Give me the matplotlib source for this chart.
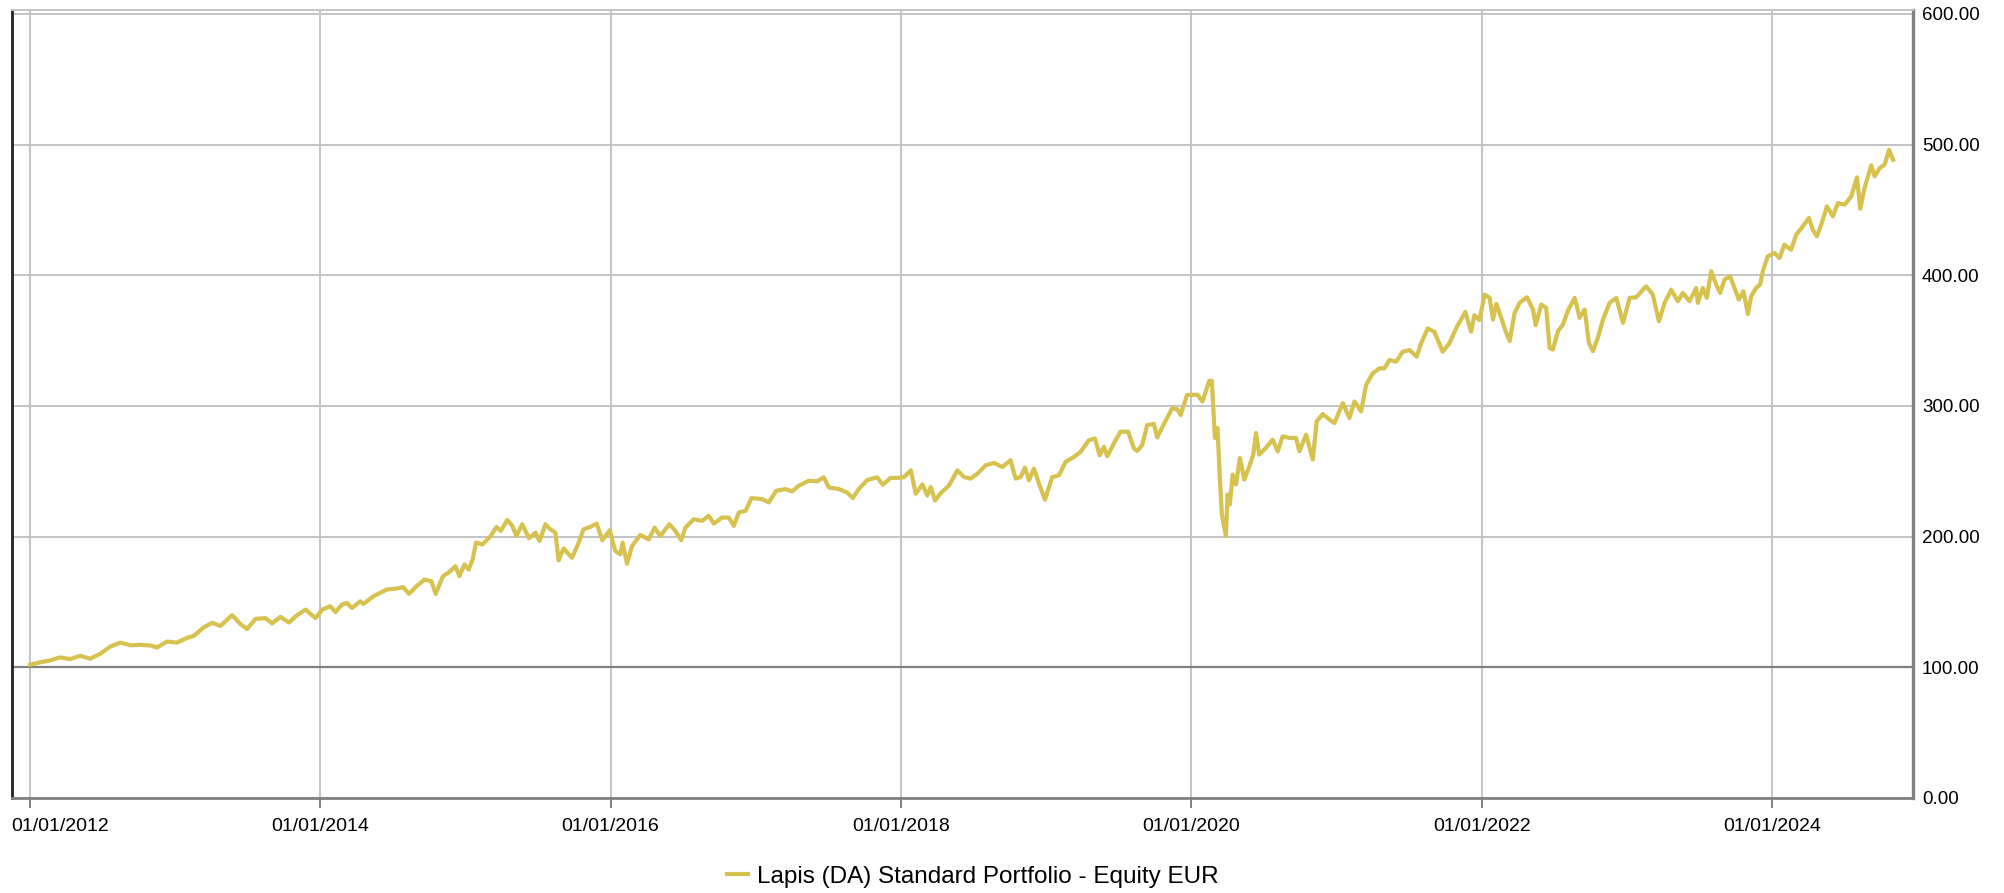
import numpy as np
import pandas as pd
import matplotlib
matplotlib.use("Agg")
import matplotlib.pyplot as plt
import matplotlib.transforms as mtransforms

plt.rcParams['font.family'] = ['Liberation Sans', 'DejaVu Sans']

series_name = "Lapis (DA) Standard Portfolio - Equity EUR"

# values: (decimal year, index level)
t_2012_13 = [2012.000, 2012.069, 2012.138, 2012.207, 2012.276, 2012.345, 2012.414, 2012.483,
             2012.552, 2012.621, 2012.690, 2012.759, 2012.828, 2012.874, 2012.943, 2013.011,
             2013.080, 2013.126, 2013.195, 2013.253, 2013.310, 2013.391, 2013.448, 2013.494,
             2013.552, 2013.621, 2013.667, 2013.724, 2013.782, 2013.839, 2013.897, 2013.966]
v_2012_13 = [102.0, 103.8, 105.3, 107.6, 106.3, 108.8, 106.6, 110.4,
             115.9, 118.9, 116.9, 117.2, 116.7, 115.2, 119.7, 118.9,
             122.5, 124.0, 130.6, 134.1, 131.6, 139.9, 133.1, 129.3,
             137.1, 137.6, 133.6, 138.6, 134.3, 139.9, 144.2, 137.6]

t_2014_15 = [2014.011, 2014.068, 2014.103, 2014.148, 2014.182, 2014.217, 2014.274, 2014.296,
             2014.365, 2014.456, 2014.525, 2014.570, 2014.611, 2014.661, 2014.718, 2014.764,
             2014.794, 2014.844, 2014.889, 2014.930, 2014.958, 2014.992, 2015.022, 2015.049,
             2015.072, 2015.117, 2015.174, 2015.213, 2015.243, 2015.288, 2015.323, 2015.350,
             2015.391, 2015.437, 2015.482, 2015.510, 2015.551, 2015.585, 2015.619, 2015.642,
             2015.676, 2015.733, 2015.774, 2015.813, 2015.859, 2015.904, 2015.943, 2015.995]
v_2014_15 = [144.1, 146.7, 142.3, 148.0, 149.2, 145.4, 150.5, 148.5,
             154.4, 159.5, 160.3, 161.3, 156.2, 162.0, 167.2, 165.9,
             156.2, 169.7, 173.0, 177.4, 169.7, 178.7, 174.9, 182.6,
             195.4, 194.1, 200.5, 207.4, 204.4, 212.8, 208.2, 200.5,
             209.5, 198.7, 203.1, 196.7, 209.5, 205.6, 203.1, 181.8,
             191.0, 183.8, 193.6, 205.6, 207.4, 210.0, 197.2, 204.9]

t_2016_17 = [2016.032, 2016.067, 2016.083, 2016.113, 2016.147, 2016.204, 2016.262, 2016.303,
             2016.342, 2016.404, 2016.445, 2016.485, 2016.514, 2016.572, 2016.629, 2016.675,
             2016.710, 2016.767, 2016.813, 2016.847, 2016.882, 2016.928, 2016.969, 2017.042,
             2017.088, 2017.139, 2017.203, 2017.249, 2017.295, 2017.364, 2017.421, 2017.467,
             2017.502, 2017.571, 2017.628, 2017.667, 2017.708, 2017.766, 2017.835, 2017.874,
             2017.927, 2017.972]
v_2016_17 = [189.0, 186.4, 195.4, 179.2, 192.8, 201.3, 197.9, 206.9,
             200.5, 209.5, 204.4, 197.2, 206.9, 213.3, 212.1, 215.9,
             210.0, 214.6, 214.6, 208.2, 218.5, 219.7, 229.5, 228.7,
             226.2, 235.1, 236.4, 234.6, 239.0, 242.8, 242.3, 245.4,
             237.7, 236.4, 233.8, 229.5, 236.4, 243.3, 245.4, 239.7,
             244.9, 244.9]

t_2018_19 = [2018.021, 2018.067, 2018.101, 2018.147, 2018.181, 2018.204, 2018.234, 2018.273,
             2018.331, 2018.388, 2018.434, 2018.480, 2018.526, 2018.583, 2018.641, 2018.698,
             2018.755, 2018.790, 2018.824, 2018.854, 2018.882, 2018.916, 2018.951, 2018.992,
             2019.042, 2019.088, 2019.134, 2019.192, 2019.238, 2019.295, 2019.336, 2019.369,
             2019.398, 2019.421, 2019.479, 2019.513, 2019.566, 2019.605, 2019.628, 2019.662,
             2019.697, 2019.743, 2019.766, 2019.812, 2019.869, 2019.904, 2019.927, 2019.972]
v_2018_19 = [245.6, 250.8, 232.8, 240.0, 231.5, 237.9, 227.7, 233.3,
             239.2, 250.8, 245.6, 244.4, 248.2, 254.6, 256.4, 253.3,
             258.5, 244.4, 245.6, 252.8, 243.1, 252.1, 240.5, 228.2,
             245.6, 246.9, 257.2, 261.0, 264.9, 273.8, 275.1, 262.3,
             268.7, 261.5, 273.8, 280.3, 280.3, 267.4, 265.6, 270.0,
             285.4, 286.2, 275.9, 286.2, 298.2, 297.4, 293.1, 308.5]

t_2020_21 = [2020.044, 2020.078, 2020.124, 2020.142, 2020.163, 2020.181, 2020.197, 2020.211,
             2020.227, 2020.239, 2020.250, 2020.266, 2020.285, 2020.308, 2020.335, 2020.365,
             2020.400, 2020.427, 2020.445, 2020.468, 2020.514, 2020.560, 2020.595, 2020.629,
             2020.675, 2020.721, 2020.744, 2020.790, 2020.836, 2020.863, 2020.905, 2020.951,
             2020.985, 2021.042, 2021.088, 2021.123, 2021.169, 2021.203, 2021.249, 2021.295,
             2021.330, 2021.364, 2021.410, 2021.456, 2021.502, 2021.552, 2021.582, 2021.628,
             2021.674, 2021.731, 2021.777, 2021.823, 2021.887, 2021.927, 2021.950, 2021.984]
v_2020_21 = [308.5, 303.4, 319.2, 319.2, 275.5, 283.1, 245.0, 217.0,
             206.9, 200.5, 232.3, 224.7, 247.5, 239.9, 260.2, 243.7,
             253.9, 262.8, 279.3, 262.8, 267.9, 274.2, 265.3, 276.8,
             275.5, 275.5, 265.3, 278.0, 259.0, 288.2, 293.8, 289.5,
             286.9, 302.2, 290.8, 303.4, 295.8, 316.1, 325.0, 328.8,
             328.8, 335.2, 333.9, 341.5, 342.8, 337.7, 347.9, 359.3,
             356.8, 341.5, 347.9, 359.3, 372.0, 356.8, 369.5, 365.7]

t_2022_24 = [2022.021, 2022.055, 2022.078, 2022.101, 2022.135, 2022.165, 2022.193, 2022.227,
             2022.262, 2022.312, 2022.354, 2022.372, 2022.411, 2022.445, 2022.468, 2022.491,
             2022.526, 2022.560, 2022.595, 2022.641, 2022.675, 2022.710, 2022.739, 2022.767,
             2022.801, 2022.836, 2022.882, 2022.928, 2022.974, 2023.020, 2023.065, 2023.134,
             2023.180, 2023.222, 2023.261, 2023.307, 2023.352, 2023.387, 2023.433, 2023.479,
             2023.490, 2023.525, 2023.552, 2023.582, 2023.617, 2023.644, 2023.674, 2023.713,
             2023.743, 2023.773, 2023.805, 2023.835, 2023.858, 2023.892, 2023.920, 2023.938,
             2023.972, 2024.018, 2024.053, 2024.087, 2024.133, 2024.168, 2024.214, 2024.255,
             2024.282, 2024.310, 2024.340, 2024.379, 2024.420, 2024.455, 2024.501, 2024.546,
             2024.586, 2024.608, 2024.638, 2024.684, 2024.707, 2024.742, 2024.776, 2024.806,
             2024.834]
v_2022_24 = [385.2, 382.7, 366.1, 378.1, 367.4, 357.2, 349.6, 371.2,
             378.9, 383.2, 373.8, 361.8, 377.6, 375.0, 344.5, 343.2,
             357.2, 362.3, 373.0, 382.7, 367.4, 373.8, 348.3, 341.9,
             352.1, 366.1, 378.9, 382.7, 363.6, 382.7, 383.2, 391.6,
             385.2, 364.8, 378.9, 389.0, 380.1, 386.5, 380.1, 390.3,
             378.9, 390.3, 382.7, 403.1, 392.9, 386.5, 396.7, 399.2,
             390.3, 381.4, 387.8, 370.4, 383.9, 390.3, 392.9, 403.1,
             414.5, 417.1, 413.2, 423.4, 419.6, 431.1, 437.5, 443.8,
             434.9, 429.8, 438.7, 452.7, 445.1, 455.3, 454.0, 460.4,
             474.9, 451.0, 466.8, 484.1, 475.7, 482.0, 484.6, 496.0,
             488.4]

y_ticks = [0, 100, 200, 300, 400, 500, 600]
x_tick_years = [2012, 2014, 2016, 2018, 2020, 2022, 2024]

years = np.array(t_2012_13 + t_2014_15 + t_2016_17 + t_2018_19 + t_2020_21 + t_2022_24)
values = np.array(v_2012_13 + v_2014_15 + v_2016_17 + v_2018_19 + v_2020_21 + v_2022_24)


def to_date(y):
    yr = int(np.floor(y))
    start = pd.Timestamp(year=yr, month=1, day=1)
    end = pd.Timestamp(year=yr + 1, month=1, day=1)
    return start + (end - start) * (y - yr)


dates = [to_date(y) for y in years]

fig = plt.figure(figsize=(20.04, 8.93), dpi=100)
ax = fig.add_axes([12 / 2004, 1 - 798 / 893, (1913 - 12) / 2004, (798 - 10) / 893])

ax.plot(dates, values, color='#d7c14f', lw=3.0, solid_joinstyle='round',
        label=series_name, zorder=3)

ax.set_ylim(0, 603)
ax.set_xlim(to_date(2011.876), to_date(2024.971))

ax.set_yticks(y_ticks)
ax.set_yticklabels([f"{v:.2f}" for v in y_ticks])
ax.yaxis.tick_right()
ax.tick_params(axis='y', length=0, pad=6.5, labelsize=13.5, colors='black')

xt = [pd.Timestamp(year=y, month=1, day=1) for y in x_tick_years]
ax.set_xticks(xt)
ax.set_xticklabels([d.strftime('%d/%m/%Y') for d in xt])
ax.tick_params(axis='x', length=7.2, width=1.4, color='#808080', pad=7,
               labelsize=14, labelcolor='black')

ax.grid(True, color='#c4c4c4', lw=1.4, zorder=0)
ax.axhline(100, color='#808080', lw=1.6, zorder=2)

ax.spines['top'].set_color('#c4c4c4')
ax.spines['top'].set_linewidth(1.4)
ax.spines['left'].set_color('#222222')
ax.spines['left'].set_linewidth(2.0)
ax.spines['bottom'].set_color('#808080')
ax.spines['bottom'].set_linewidth(2.0)
ax.spines['right'].set_color('#808080')
ax.spines['right'].set_linewidth(2.4)

# keep the first date label inside the figure
first = ax.get_xticklabels()[0]
first.set_horizontalalignment('left')
first.set_transform(first.get_transform() +
                    mtransforms.ScaledTranslation(-0.19, 0, fig.dpi_scale_trans))

fig.legend(loc='center', bbox_to_anchor=(0.4855, 0.018), frameon=False,
           fontsize=17.5, handlelength=0.85, handletextpad=0.4, borderpad=0)

fig.savefig('out.png', dpi=100)
